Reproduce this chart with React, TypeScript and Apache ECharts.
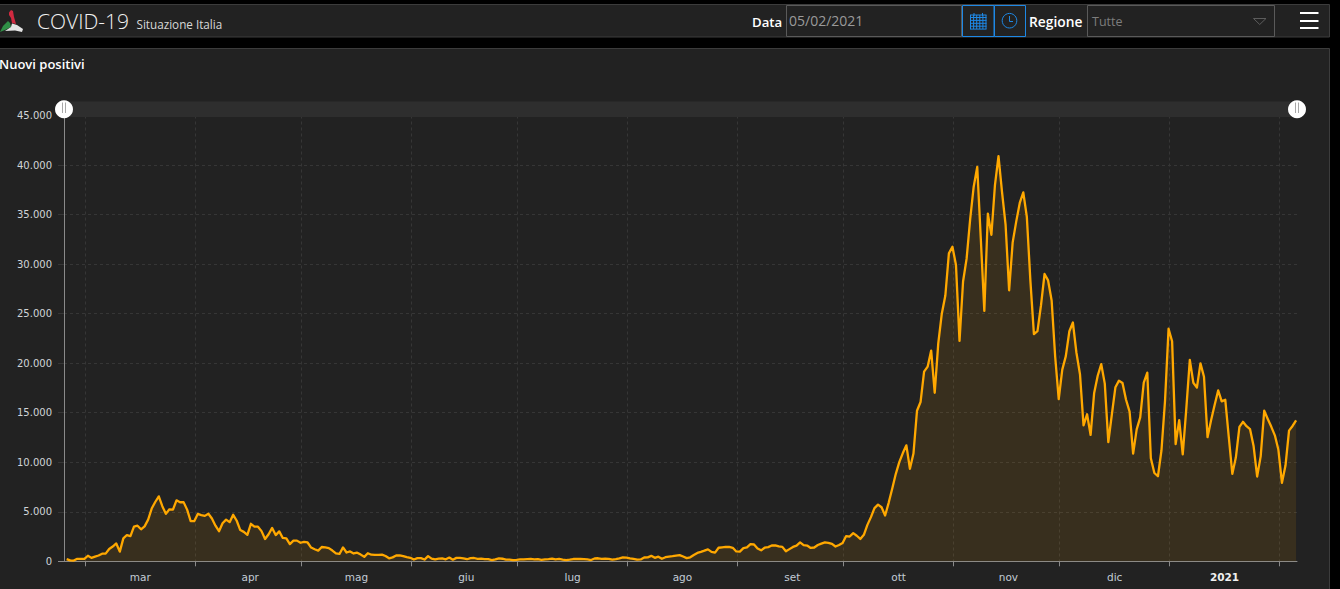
import React, { useEffect, useRef } from "react";
import * as echarts from "echarts";

// Daily new positives, month by month, starting 24 Feb 2020
const feb20 = [221, 93, 78, 250, 238, 240];
const mar20 = [561, 347, 466, 587, 769, 778, 1247, 1492, 1797, 977, 2313, 2651, 2547, 3497, 3590, 3233, 3526, 4207, 5322, 5986, 6557, 5560, 4789, 5249, 5210, 6153, 5959, 5974, 5217, 4050, 4053];
const apr20 = [4782, 4668, 4585, 4805, 4316, 3599, 3039, 3836, 4204, 3951, 4694, 4092, 3153, 2972, 2667, 3786, 3493, 3491, 3047, 2256, 2729, 3370, 2646, 3021, 2357, 2324, 1739, 2091, 2086, 1872];
const may20 = [1965, 1900, 1389, 1221, 1075, 1444, 1401, 1327, 1083, 802, 744, 1402, 888, 992, 789, 875, 675, 451, 813, 665, 642, 652, 669, 531, 300, 397, 584, 593, 516, 416, 355];
const jun20 = [178, 318, 321, 177, 518, 270, 197, 280, 283, 202, 379, 163, 346, 338, 301, 210, 329, 333, 251, 262, 224, 218, 122, 190, 296, 259, 175, 174, 126, 142];
const jul20 = [187, 201, 223, 235, 192, 208, 138, 193, 229, 276, 188, 234, 169, 114, 162, 230, 233, 249, 219, 190, 129, 282, 306, 252, 275, 255, 170, 212, 289, 386, 379];
const aug20 = [295, 239, 159, 190, 384, 402, 552, 347, 463, 259, 412, 481, 522, 574, 629, 479, 320, 403, 642, 845, 947, 1071, 1210, 953, 878, 1367, 1411, 1462, 1444, 1365, 996];
const sep20 = [978, 1326, 1397, 1733, 1695, 1297, 1108, 1370, 1434, 1597, 1616, 1501, 1458, 1008, 1229, 1452, 1585, 1907, 1638, 1587, 1350, 1392, 1640, 1786, 1912, 1869, 1766, 1494, 1648, 1851];
const oct20 = [2548, 2499, 2844, 2578, 2257, 2677, 3678, 4458, 5372, 5724, 5456, 4619, 5901, 7332, 8804, 10010, 10925, 11705, 9338, 10874, 15199, 16079, 19143, 19644, 21273, 17012, 21994, 24991, 26831, 31084, 31758];
const nov20 = [29907, 22253, 28244, 30550, 34505, 37809, 39811, 32616, 25271, 35098, 32961, 37978, 40902, 37255, 33979, 27354, 32191, 34283, 36176, 37242, 34767, 28337, 22930, 23232, 25853, 29003, 28352, 26323, 20648, 16377];
const dec20 = [19350, 20709, 23225, 24099, 21052, 18887, 13720, 14842, 12755, 16999, 18727, 19903, 17938, 12030, 14844, 17572, 18236, 17992, 16308, 15104, 10872, 13318, 14522, 18040, 19037, 10407, 8913, 8585, 11212, 16202, 23477];
const jan21 = [22211, 11831, 14245, 10800, 15378, 20331, 18020, 17533, 19978, 18627, 12532, 14242, 15774, 17246, 16146, 16310, 12545, 8824, 10497, 13571, 14078, 13633, 13331, 11629, 8561, 10593, 15204, 14372, 13574, 12715, 11252];
const feb21 = [7925, 9660, 13189, 13659, 14218];

const monthNames = ["gen", "feb", "mar", "apr", "mag", "giu", "lug", "ago", "set", "ott", "nov", "dic"];
const monthStarts: [number, number][] = [[2020, 2], [2020, 3], [2020, 4], [2020, 5], [2020, 6], [2020, 7], [2020, 8], [2020, 9], [2020, 10], [2020, 11], [2021, 0], [2021, 1]];
const labelMonths: [number, number][] = monthStarts.slice(0, 11);

const allValues = [...feb20, ...mar20, ...apr20, ...may20, ...jun20, ...jul20, ...aug20, ...sep20, ...oct20, ...nov20, ...dec20, ...jan21, ...feb21];
const seriesData = allValues.map((v, i) => [new Date(2020, 1, 24 + i, 18).getTime(), v]);

const FONT = "'Open Sans', sans-serif";
const TICK_FONT = "'DejaVu Sans', sans-serif";
const PANEL = "#222222";
const EDGE = "#3c3c3c";
const BLUE = "#1e88e5";

const calendarGrid = () => {
  const out: any[] = [];
  for (let r = 0; r < 5; r++)
    out.push({ type: "line", z: 10, shape: { x1: 970, y1: 17.5 + r * 2.9, x2: 986.5, y2: 17.5 + r * 2.9 }, style: { stroke: BLUE, lineWidth: 1 } });
  for (let c = 0; c < 6; c++)
    out.push({ type: "line", z: 10, shape: { x1: 970.5 + c * 3.1, y1: 15, x2: 970.5 + c * 3.1, y2: 29 }, style: { stroke: BLUE, lineWidth: 1 } });
  return out;
};

const chrome = () => [
  { type: "rect", z: -2, shape: { x: -3, y: 4.5, width: 1332.5, height: 32.5 }, style: { fill: PANEL, stroke: EDGE, lineWidth: 1 } },
  { type: "rect", z: -2, shape: { x: -3, y: 48.5, width: 1332.5, height: 545 }, style: { fill: PANEL, stroke: EDGE, lineWidth: 1 } },
  // logo
  { type: "polygon", z: 5, shape: { points: [[0, 32], [3, 26], [8, 21], [10, 23], [11, 27], [5, 30]] }, style: { fill: "#2f8f46" } },
  { type: "polygon", z: 5, shape: { points: [[9, 12.5], [11, 10], [13, 11], [14, 17], [16, 24], [12, 23], [11, 18], [9, 15]] }, style: { fill: "#d02a40" } },
  { type: "polygon", z: 5, shape: { points: [[5, 31], [11, 27], [12, 23.5], [17, 25], [23, 29], [22, 32], [15, 30.5]] }, style: { fill: "#e4e4e4" } },
  // header text
  { type: "text", z: 5, x: 37, y: 21, style: { text: "COVID-19", fill: "#f2f2f2", font: `300 21px ${FONT}`, verticalAlign: "middle" } },
  { type: "text", z: 5, x: 136.5, y: 23.5, style: { text: "Situazione Italia", fill: "#d8d8d8", font: `11.7px ${FONT}`, verticalAlign: "middle" } },
  { type: "text", z: 5, x: -1, y: 63.5, style: { text: "Nuovi positivi", fill: "#ffffff", font: `600 13px ${FONT}`, verticalAlign: "middle" } },
  { type: "text", z: 5, x: 752, y: 21.5, style: { text: "Data", fill: "#ffffff", font: `600 13.2px ${FONT}`, verticalAlign: "middle" } },
  { type: "rect", z: 5, shape: { x: 786.5, y: 5.5, width: 175, height: 31 }, style: { fill: PANEL, stroke: "#5a5a5a", lineWidth: 1 } },
  { type: "text", z: 6, x: 789, y: 20, style: { text: "05/02/2021", fill: "#9a9a9a", font: `14px ${FONT}`, verticalAlign: "middle" } },
  { type: "rect", z: 7, shape: { x: 962.5, y: 5.5, width: 31.5, height: 31 }, style: { fill: PANEL, stroke: BLUE, lineWidth: 1 } },
  { type: "rect", z: 7, shape: { x: 994.5, y: 5.5, width: 31, height: 31 }, style: { fill: PANEL, stroke: BLUE, lineWidth: 1 } },
  // calendar icon
  { type: "line", z: 10, shape: { x1: 970, y1: 15, x2: 986.5, y2: 15 }, style: { stroke: BLUE, lineWidth: 1 } },
  { type: "line", z: 10, shape: { x1: 974, y1: 13, x2: 974, y2: 16 }, style: { stroke: BLUE, lineWidth: 1 } },
  { type: "line", z: 10, shape: { x1: 982.5, y1: 13, x2: 982.5, y2: 16 }, style: { stroke: BLUE, lineWidth: 1 } },
  ...calendarGrid(),
  // clock icon
  { type: "circle", z: 10, shape: { cx: 1009.5, cy: 20.7, r: 7.3 }, style: { fill: "none", stroke: BLUE, lineWidth: 1 } },
  { type: "polyline", z: 10, shape: { points: [[1009.5, 16], [1009.5, 21.5], [1013, 21.5]] }, style: { fill: "none", stroke: BLUE, lineWidth: 1 } },
  { type: "text", z: 5, x: 1029, y: 21.5, style: { text: "Regione", fill: "#ffffff", font: `600 13.8px ${FONT}`, verticalAlign: "middle" } },
  { type: "rect", z: 5, shape: { x: 1087.5, y: 5.5, width: 187, height: 31 }, style: { fill: PANEL, stroke: "#5a5a5a", lineWidth: 1 } },
  { type: "text", z: 6, x: 1092, y: 21.5, style: { text: "Tutte", fill: "#7d7d7d", font: `12.5px ${FONT}`, verticalAlign: "middle" } },
  { type: "polygon", z: 6, shape: { points: [[1253.5, 18.5], [1266, 18.5], [1259.7, 24.5]] }, style: { fill: "none", stroke: "#5c5c5c", lineWidth: 1 } },
  // menu icon
  { type: "rect", z: 6, shape: { x: 1300, y: 12, width: 18.5, height: 2 }, style: { fill: "#ffffff" } },
  { type: "rect", z: 6, shape: { x: 1300, y: 20, width: 18.5, height: 2 }, style: { fill: "#ffffff" } },
  { type: "rect", z: 6, shape: { x: 1300, y: 27, width: 18.5, height: 2 }, style: { fill: "#ffffff" } },
  // zero tick, in the axis colour
  { type: "line", z: 6, shape: { x1: 58, y1: 561.5, x2: 64, y2: 561.5 }, style: { stroke: "#8a8a8a", lineWidth: 1 } },
  // slider handle grips
  { type: "line", z: 20, shape: { x1: 62.5, y1: 102.5, x2: 62.5, y2: 113 }, style: { stroke: "#a8a8a8", lineWidth: 1 } },
  { type: "line", z: 20, shape: { x1: 65.5, y1: 102.5, x2: 65.5, y2: 113 }, style: { stroke: "#a8a8a8", lineWidth: 1 } },
  { type: "line", z: 20, shape: { x1: 1295.5, y1: 102.5, x2: 1295.5, y2: 113 }, style: { stroke: "#a8a8a8", lineWidth: 1 } },
  { type: "line", z: 20, shape: { x1: 1298.5, y1: 102.5, x2: 1298.5, y2: 113 }, style: { stroke: "#a8a8a8", lineWidth: 1 } },
];

export default function App() {
  const ref = useRef<HTMLDivElement>(null);
  useEffect(() => {
    const chart = echarts.init(ref.current!, undefined, { renderer: "svg" });
    const tickTimes = monthStarts.map(([y, m]) => new Date(y, m, 1).getTime());
    const labelTimes = labelMonths.map(([y, m]) => new Date(y, m, 16, 13).getTime());
    chart.setOption({
      animation: false,
      backgroundColor: "#000000",
      grid: { left: 64, right: 43, top: 115.5, bottom: 27.7, containLabel: false },
      graphic: { elements: chrome() },
      dataZoom: [{
        type: "slider", xAxisIndex: 0, filterMode: "none", left: 62, right: 43, top: 101, height: 15.5, start: 0, end: 100,
        showDetail: false, showDataShadow: false, brushSelect: false, moveHandleSize: 0,
        backgroundColor: "#2e2e2e", borderColor: "transparent", fillerColor: "transparent",
        handleIcon: "circle", handleSize: 18, handleStyle: { color: "#ffffff", borderColor: "#ffffff", borderWidth: 0 },
        emphasis: { handleStyle: { color: "#ffffff", borderWidth: 0 } },
      }],
      xAxis: {
        type: "value",
        min: new Date(2020, 1, 24).getTime(),
        max: new Date(2021, 1, 6).getTime(),
        axisLine: { lineStyle: { color: "#8a8a8a", width: 1 } },
        axisTick: { show: true, length: 5, customValues: tickTimes, lineStyle: { color: "#8a8a8a" } },
        splitLine: { show: true, lineStyle: { color: "#363636", type: [3, 3] } },
        axisLabel: {
          customValues: labelTimes,
          showMinLabel: true, showMaxLabel: true, hideOverlap: false,
          margin: 10,
          formatter: (v: number) => {
            const d = new Date(v);
            return d.getFullYear() === 2021 ? "{year|2021}" : `{m|${monthNames[d.getMonth()]}}`;
          },
          rich: {
            m: { color: "#c3ccd6", fontFamily: TICK_FONT, fontSize: 10.5 },
            year: { color: "#f0f0f0", fontFamily: TICK_FONT, fontSize: 10.5, fontWeight: "bold" },
          },
        },
      },
      yAxis: {
        type: "value",
        min: 0,
        max: 45000,
        interval: 5000,
        axisLine: { show: true, lineStyle: { color: "#8a8a8a", width: 1 } },
        axisTick: { show: true, length: 6, lineStyle: { color: "#363636" } },
        splitLine: { show: true, lineStyle: { color: "#363636", type: [3, 3] } },
        axisLabel: {
          color: "#d0d4d8", fontFamily: TICK_FONT, fontSize: 10, margin: 12, padding: [2, 0, 0, 0],
          formatter: (v: number) => v.toString().replace(/\B(?=(\d{3})+$)/g, "."),
        },
      },
      series: [{
        type: "line",
        data: seriesData,
        showSymbol: false,
        smooth: false,
        lineStyle: { color: "#ffa800", width: 2.3, join: "round" },
        itemStyle: { color: "#ffa800" },
        areaStyle: { color: "rgba(255,170,0,0.145)" },
        z: 3,
      }],
    });
    return () => chart.dispose();
  }, []);
  return <div ref={ref} style={{ position: "fixed", left: 0, top: 0, width: 1340, height: 589 }} />;
}
